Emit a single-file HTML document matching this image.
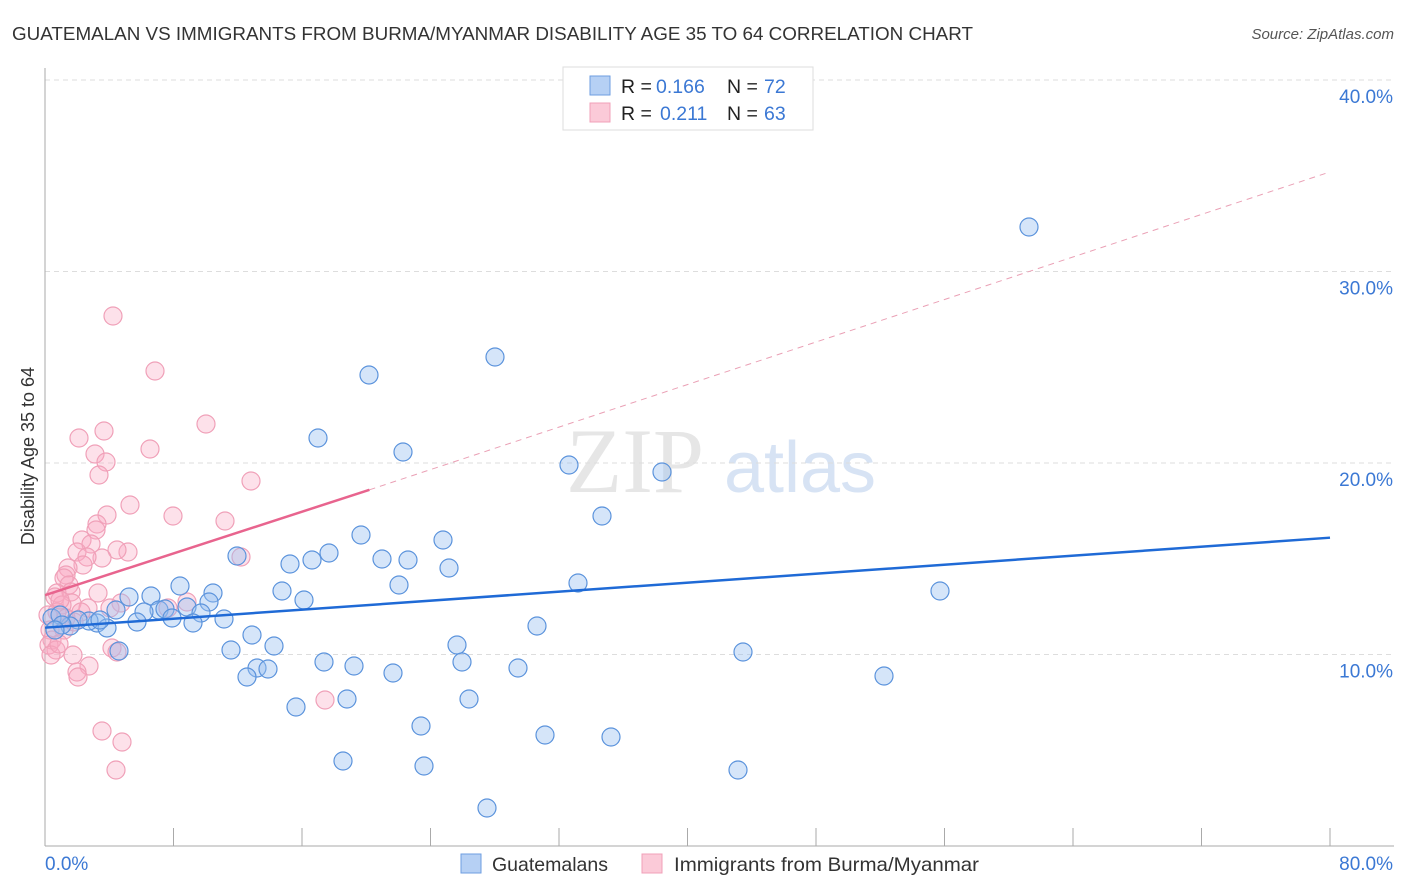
<!DOCTYPE html>
<html><head><meta charset="utf-8"><style>
body{margin:0;background:#fff;font-family:"Liberation Sans",sans-serif}
svg{display:block}
</style></head><body>
<svg id="c" width="1406" height="892"></svg>
<script>
const blueX=[1029,495,369,318,403,569,662,602,361,443,329,237,382,408,290,312,449,578,399,940,180,282,213,129,151,304,209,187,159,165,116,144,201,224,172,137,193,97,89,78,52,70,107,537,252,274,457,231,119,743,324,354,462,518,257,268,393,247,884,347,469,296,421,545,611,343,424,738,487,60,62,55,100];
const blueY=[227,357,375,438,452,465,472,516,535,540,553,556,559,560,564,560,568,583,585,591,586,591,593,597,596,600,602,607,610,609,610,612,613,619,618,622,623,623,621,620,618,626,628,626,635,646,645,650,651,652,662,666,662,668,668,669,673,677,676,699,699,707,726,735,737,761,766,770,808,615,625,630,620];
const pinkX=[113,155,206,79,104,150,95,106,99,251,130,107,173,225,97,96,82,91,77,128,117,102,87,241,83,68,66,64,69,57,55,71,98,72,121,187,110,168,88,62,57,48,66,50,52,49,56,112,117,73,51,89,77,78,325,102,122,116,60,81,64,74,59];
const pinkY=[316,371,424,438,431,449,454,462,475,481,505,515,516,521,524,530,540,544,552,552,550,558,557,557,565,568,575,578,585,593,597,592,593,603,603,602,608,608,608,605,612,615,618,630,640,645,650,648,652,655,655,666,672,677,700,731,742,770,600,612,630,622,644];
const X0=45,XS=16.0625,Y0=846,YS=19.15;
const blueData=blueX.map((x,i)=>[(x-X0)/XS,(Y0-blueY[i])/YS]);
const pinkData=pinkX.map((x,i)=>[(x-X0)/XS,(Y0-pinkY[i])/YS]);
const xTicks=[8,16,24,32,40,48,56,64,72,80];
const yTicks=[10,20,30,40];
const blueTrend=[[0,11.4],[80,16.1]];
const pinkTrend=[[0,13.1],[20.2,18.6],[80,35.2]];
const sx=v=>X0+v*XS, sy=v=>Y0-v*YS;
const svg=document.getElementById('c');const NS='http://www.w3.org/2000/svg';
function mk(t,a,txt){const e=document.createElementNS(NS,t);for(const k in a)e.setAttribute(k,a[k]);if(txt!=null)e.textContent=txt;svg.appendChild(e);return e;}
let e;
e=mk('text',{x:12,y:40,'font-size':18.5,fill:'#333',textLength:961,lengthAdjust:'spacingAndGlyphs'},'GUATEMALAN VS IMMIGRANTS FROM BURMA/MYANMAR DISABILITY AGE 35 TO 64 CORRELATION CHART');


e=mk('text',{x:1394,y:39,'font-size':15,fill:'#555','font-style':'italic','text-anchor':'end'},'Source: ZipAtlas.com');


e=mk('text',{x:635,y:492,'font-size':92,fill:'#e6e6e6','font-family':'Liberation Serif',"text-anchor":"middle"},'ZIP');


e=mk('text',{x:800,y:492,'font-size':72,fill:'#d7e3f4',"text-anchor":"middle"},'atlas');


yTicks.forEach(v=>{
 e=mk('line',{x1:45,x2:1394,y1:sy(v),y2:sy(v),stroke:'#ddd','stroke-dasharray':'5,4'});
 
 
 e=mk('text',{x:1393,y:sy(v)+23,'font-size':19,fill:'#3b78d4','text-anchor':'end'},v.toFixed(1)+'%');
 
 
});
e=mk('line',{x1:45,x2:45,y1:68,y2:846,stroke:'#aaa'});


e=mk('line',{x1:45,x2:1394,y1:846,y2:846,stroke:'#aaa'});


xTicks.forEach(v=>{
 e=mk('line',{x1:sx(v),x2:sx(v),y1:828,y2:846,stroke:'#aaa'});
 
 
});
e=mk('text',{x:45,y:870,'font-size':19,fill:'#3b78d4'},'0.0%');


e=mk('text',{x:1393,y:870,'font-size':19,fill:'#3b78d4','text-anchor':'end'},'80.0%');


e=mk('text',{x:34,y:456,'font-size':18,fill:'#333','text-anchor':'middle',transform:'rotate(-90 34 456)'},'Disability Age 35 to 64');


pinkData.forEach(d=>{
 e=mk('circle',{cx:sx(d[0]),cy:sy(d[1]),r:9,fill:'rgba(248,170,195,0.35)',stroke:'#f0a0b8','stroke-width':1.2});
 
 
});
blueData.forEach(d=>{
 e=mk('circle',{cx:sx(d[0]),cy:sy(d[1]),r:9,fill:'rgba(150,190,240,0.4)',stroke:'#5b93dc','stroke-width':1.2});
 
 
});
e=mk('line',{x1:sx(blueTrend[0][0]),y1:sy(blueTrend[0][1]),x2:sx(blueTrend[1][0]),y2:sy(blueTrend[1][1]),stroke:'#1f6ad6','stroke-width':2.5});


e=mk('line',{x1:sx(pinkTrend[0][0]),y1:sy(pinkTrend[0][1]),x2:sx(pinkTrend[1][0]),y2:sy(pinkTrend[1][1]),stroke:'#e8648e','stroke-width':2.5});


e=mk('line',{x1:sx(pinkTrend[1][0]),y1:sy(pinkTrend[1][1]),x2:sx(pinkTrend[2][0]),y2:sy(pinkTrend[2][1]),stroke:'#eaa0b5','stroke-width':1,'stroke-dasharray':'6,5'});


e=mk('rect',{x:563,y:67,width:250,height:63,fill:'#fff',stroke:'#ddd'});


e=mk('rect',{x:590,y:76,width:20,height:19,fill:'#b6d0f4',stroke:'#6e9ee0'});


e=mk('rect',{x:590,y:103,width:20,height:19,fill:'#fbcad8',stroke:'#f0a0b8'});


[[93,656,'0.166','72'],[120,660,'0.211','63']].forEach(r=>{
 e=mk('text',{x:621,y:r[0],'font-size':19.5,fill:'#222'},'R =');
 
 
 e=mk('text',{x:r[1],y:r[0],'font-size':19.5,fill:'#3b78d4'},r[2]);
 
 
 e=mk('text',{x:727,y:r[0],'font-size':19.5,fill:'#222'},'N =');
 
 
 e=mk('text',{x:764,y:r[0],'font-size':19.5,fill:'#3b78d4'},r[3]);
 
 
});
e=mk('rect',{x:461,y:854,width:20,height:19,fill:'#b6d0f4',stroke:'#6e9ee0'});


e=mk('text',{x:492,y:871,'font-size':19.5,fill:'#333'},'Guatemalans');


e=mk('rect',{x:642,y:854,width:20,height:19,fill:'#fbcad8',stroke:'#f0a0b8'});


e=mk('text',{x:674,y:871,'font-size':19.5,fill:'#333',textLength:305,lengthAdjust:'spacingAndGlyphs'},'Immigrants from Burma/Myanmar');


</script>
</body></html>
